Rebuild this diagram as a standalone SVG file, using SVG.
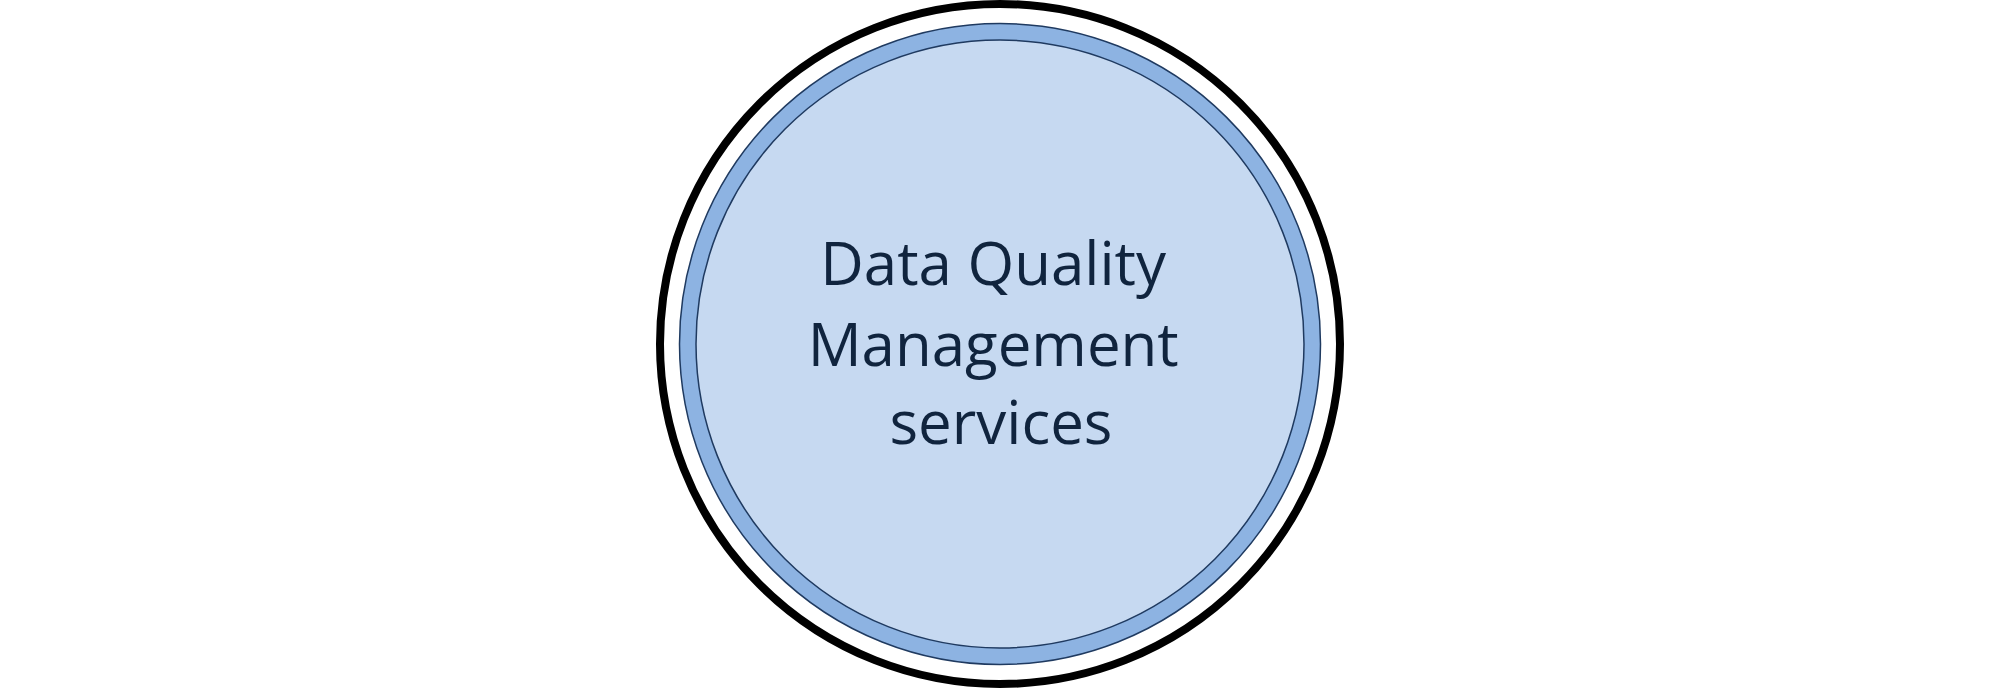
<svg xmlns="http://www.w3.org/2000/svg" width="2000" height="692" viewBox="0 0 2000 692">
  <style>
    .outer { fill: #ffffff; stroke: #000000; stroke-width: 8; }
    .ring { fill: #8db3e2; stroke: #1f3a60; stroke-width: 1.5; }
    .core { fill: #c6d9f1; stroke: #1f3a60; stroke-width: 1.5; }
    .label { font-family: "Open Sans", "Noto Sans", sans-serif; font-size: 60px; fill: #10243e; text-anchor: middle; }
  </style>
  <rect width="2000" height="692" fill="#ffffff"/>
  <g id="node-dqm">
    <circle class="outer" cx="1000" cy="344" r="340"/>
    <circle class="ring" cx="1000" cy="344" r="320.5"/>
    <circle class="core" cx="1000" cy="344" r="304"/>
    <text class="label">
      <tspan x="1001" y="285">Data Quality</tspan>
      <tspan x="1001" y="366">Management</tspan>
      <tspan x="1001" y="444">services</tspan>
    </text>
  </g>
  <g id="connectors"></g>
</svg>
